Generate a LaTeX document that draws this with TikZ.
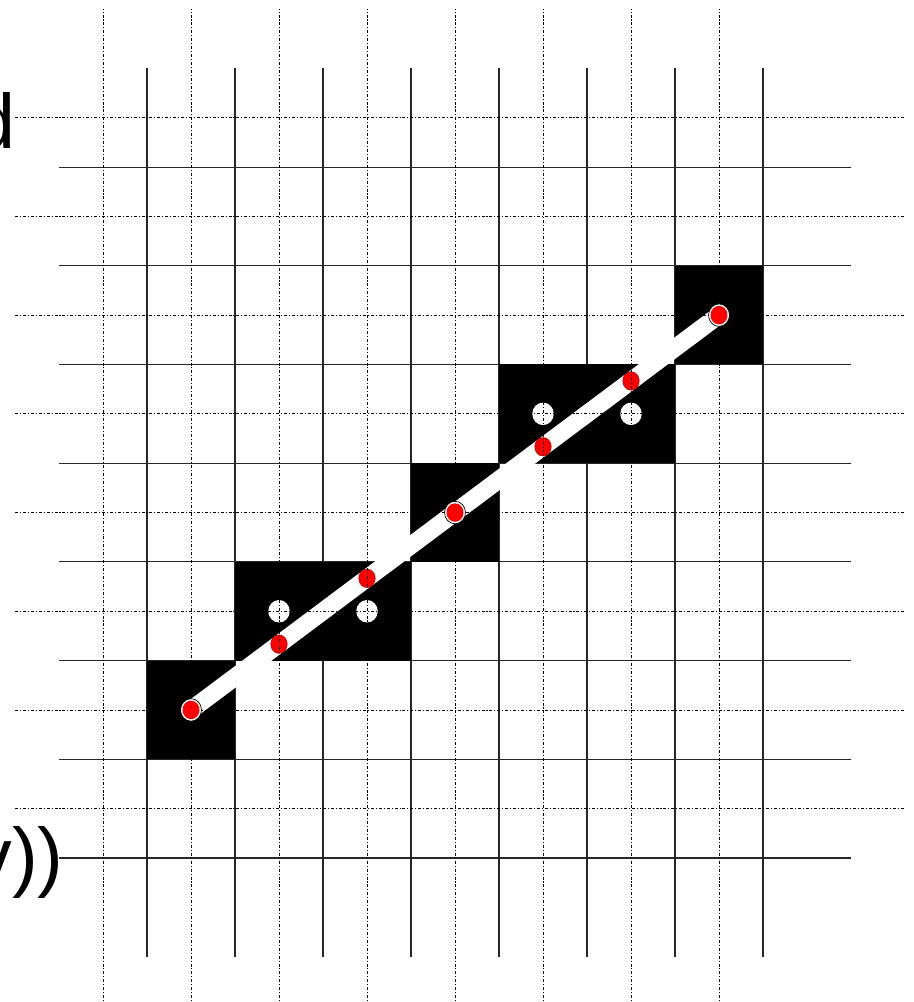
\documentclass[tikz,border=0pt]{standalone}
\usepackage{fontspec}
\setmainfont{Liberation Sans}
\usetikzlibrary{calc}

\begin{document}
\begin{tikzpicture}[x=1.76cm,y=1.974cm,
    gridline/.style={line width=0.65pt,black!85},
    centerline/.style={line width=0.5pt,black,dash pattern=on 1.7pt off 1.1pt on 0.6pt off 1.1pt},
    pixel/.style={fill=black},
    sample/.style={fill=red,draw=red!70!black,line width=0.3pt},
    hole/.style={fill=white},
    every node/.style={inner sep=0pt,font=\fontsize{44}{50}\selectfont}]
  \useasboundingbox (-1.6705,-1.459) rectangle (8.7159,8.693);
  \foreach \i in {0,...,7} {
    \draw[gridline] (\i,-1) -- (\i,8);
    \draw[gridline] (-1,\i) -- (8,\i);
  }
  \foreach \x/\y in {0/1,1/2,2/2,3/3,4/4,5/4,6/5}
    \fill[pixel] (\x,\y) rectangle ++(1,1);
  \coordinate (p0) at (0.5,1.5);
  \coordinate (p1) at (6.5,5.5);
  \draw[white,line width=10pt] (p0) -- (p1);
  \foreach \t in {1,2,4,5}
    \filldraw[sample] ($(p0)!\t/6!(p1)$) ellipse [x radius=0.165cm,y radius=0.185cm];
  \foreach \x/\y in {1.5/2.5,2.5/2.5,4.5/4.5,5.5/4.5}
    \fill[hole] (\x,\y) ellipse [x radius=0.215cm,y radius=0.225cm];
  \foreach \i in {-0.5,0.5,...,6.5}
    \draw[centerline] (\i,-1.5) -- (\i,8.6);
  \foreach \j in {0.5,1.5,...,7.5}
    \draw[centerline] (-1.5,\j) -- (8.6,\j);
  \foreach \t in {0,0.5,1} {
    \filldraw[fill=white,draw=black,line width=0.4pt] ($(p0)!\t!(p1)$) ellipse [x radius=0.21cm,y radius=0.225cm];
    \fill[red] ($(p0)!\t!(p1)$) ellipse [x radius=0.17cm,y radius=0.185cm];
  }
  \node[anchor=base east] (lbltop) at (-1.489,7.193) {d};
  \node[anchor=base east] (lblbot) at (-0.943,-0.253) {v))};
\end{tikzpicture}
\end{document}
